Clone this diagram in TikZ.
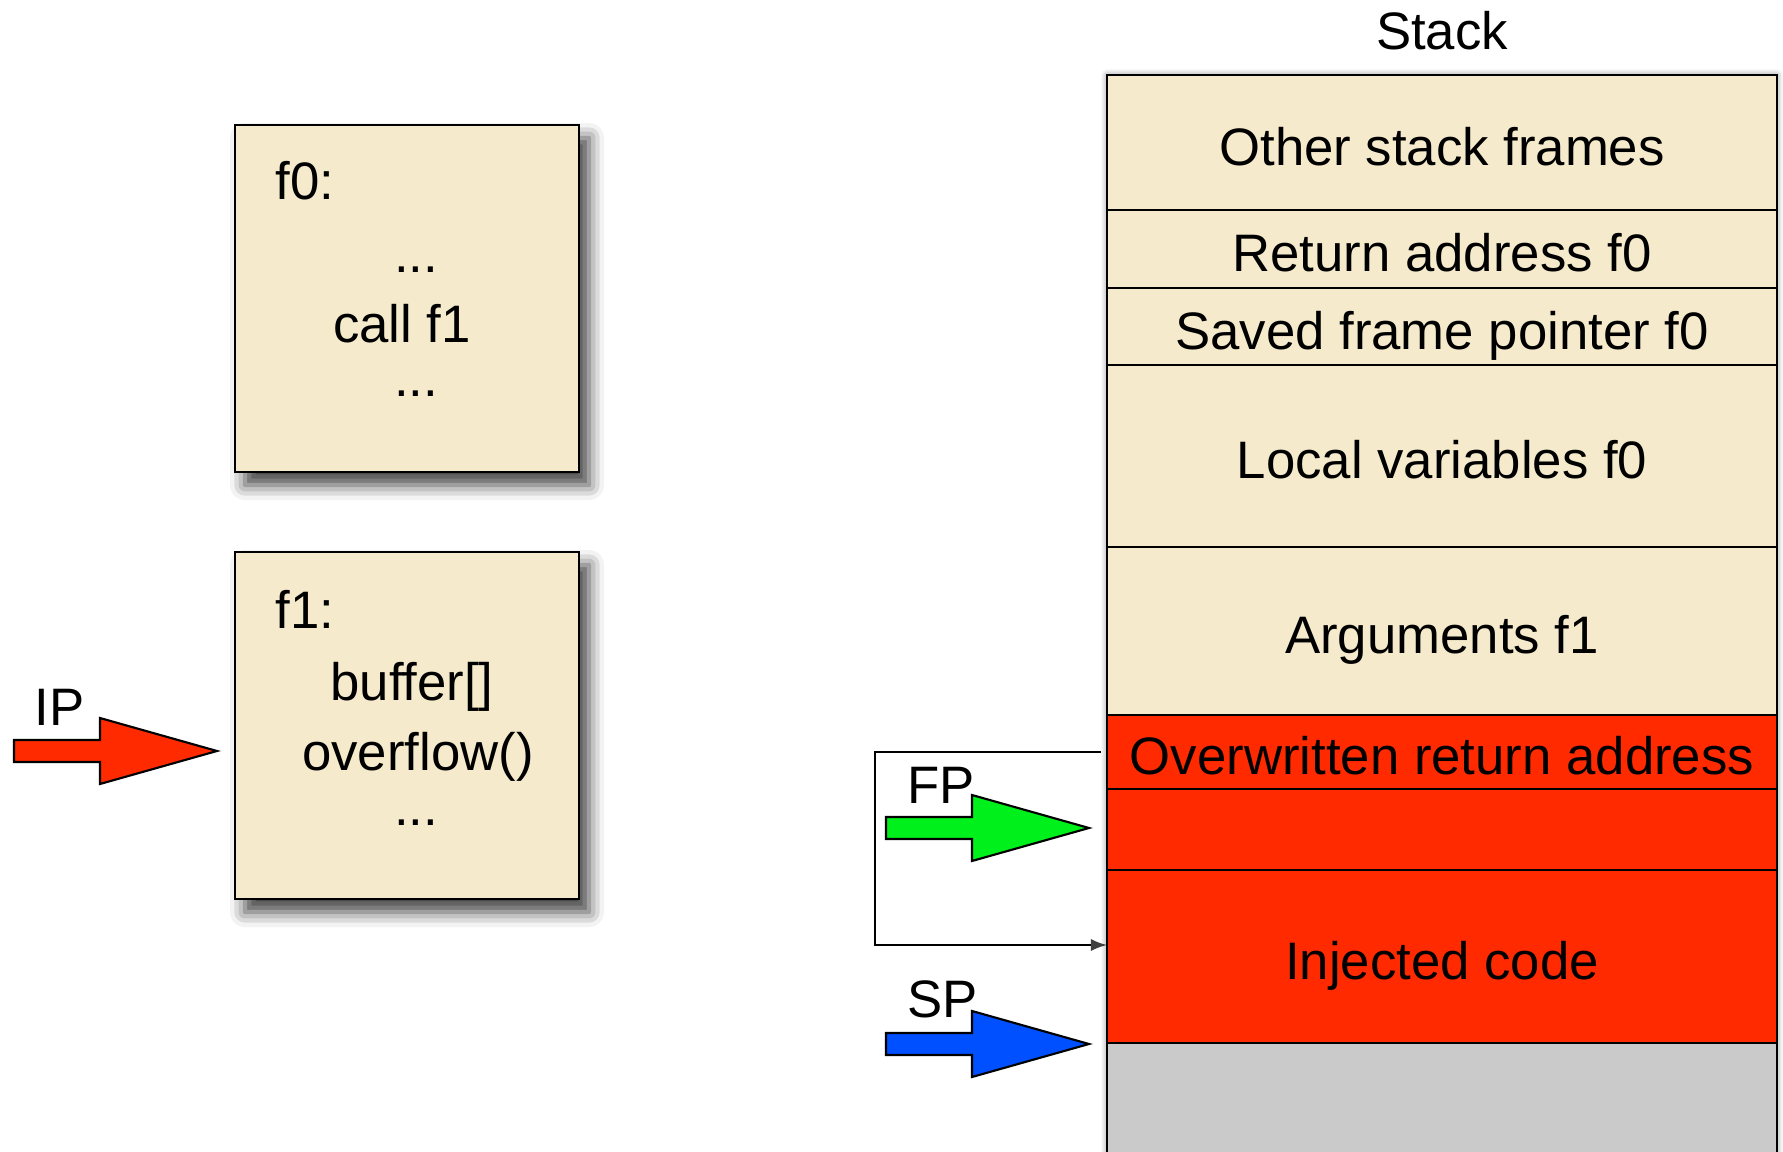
\documentclass[tikz,border=0pt]{standalone}
\usepackage{fontspec}
\setmainfont{Liberation Sans}
\usetikzlibrary{positioning,shadows.blur}
\definecolor{paper}{HTML}{F5EACB}
\definecolor{smash}{HTML}{FF2A00}
\definecolor{unused}{HTML}{C9CAC9}
\definecolor{fpgreen}{HTML}{00F01C}
\definecolor{spblue}{HTML}{0050FF}
\tikzset{
  cell/.style={draw,fill=paper,line width=0.8pt,minimum width=6.7cm,outer sep=0pt,inner sep=0pt,text height=13pt,text depth=0pt},
  code/.style={draw,fill=paper,line width=0.8pt,minimum width=3.44cm,minimum height=3.47cm,
    blur shadow={shadow xshift=0.1cm,shadow yshift=-0.13cm,shadow blur radius=0.15cm,shadow opacity=75}},
  txt/.style={anchor=base,inner sep=0pt},
  pics/ptr/.style={code={\filldraw[fill=#1,line width=0.6pt](0,0.11)--(0.86,0.11)--(0.86,0.33)--(2.03,0)--(0.86,-0.33)--(0.86,-0.11)--(0,-0.11)--cycle;}}
}
\begin{document}
\begin{tikzpicture}[font={\fontsize{15pt}{18pt}\selectfont}]
\useasboundingbox(0,0)rectangle(17.83,-11.52);
% code of f0 and f1
\node[code](fzero) at (4.07,-2.985){};
\node[txt,anchor=base west](fzerolbl) at (2.75,-2.00){f0:};
\node[txt](dotsa) at (4.16,-2.73){...};
\node[txt](callf) at (4.02,-3.43){call f1};
\node[txt](dotsb) at (4.16,-3.97){...};
\node[code](fone) at (4.07,-7.255){};
\node[txt,anchor=base west](fonelbl) at (2.75,-6.28){f1:};
\node[txt](buf) at (4.12,-7.00){buffer[]};
\node[txt](ovf) at (4.18,-7.70){overflow()};
\node[txt](dotsc) at (4.16,-8.25){...};
% the stack
\fill[white,blur shadow={shadow xshift=0pt,shadow yshift=0pt,shadow blur radius=0.06cm,shadow opacity=50}](11.07,-0.75)rectangle(17.77,-12);
\node[txt](stacklbl) at (14.42,-0.50){Stack};
\node[cell,minimum height=1.35cm,anchor=north west](others) at (11.07,-0.75){Other stack frames};
\node[cell,minimum height=0.78cm,below=0pt of others](retaddr){Return address f0};
\node[cell,minimum height=0.77cm,below=0pt of retaddr](savedfp){Saved frame pointer f0};
\node[cell,minimum height=1.82cm,below=0pt of savedfp](locals){Local variables f0};
\node[cell,minimum height=1.68cm,below=0pt of locals](args){Arguments f1};
\node[cell,fill=smash,minimum height=0.74cm,below=0pt of args](overret){Overwritten return address};
\node[cell,fill=smash,minimum height=0.81cm,below=0pt of overret](filler){};
\node[cell,fill=smash,minimum height=1.73cm,below=0pt of filler](injected){Injected code};
\node[cell,fill=unused,minimum height=1.20cm,below=0pt of injected](free){};
% pointers
\pic at (0.14,-7.51){ptr=smash};
\node[txt,anchor=base west](iplbl) at (0.34,-7.25){IP};
\pic at (8.86,-8.28){ptr=fpgreen};
\node[txt,anchor=base west](fplbl) at (9.07,-8.03){FP};
\pic at (8.86,-10.44){ptr=spblue};
\node[txt,anchor=base west](splbl) at (9.07,-10.17){SP};
\draw[-latex,line width=0.6pt,shorten <=1.7pt](overret.west)--++(-2.32,0)|-([yshift=0.115cm]injected.west);
\end{tikzpicture}
\end{document}
